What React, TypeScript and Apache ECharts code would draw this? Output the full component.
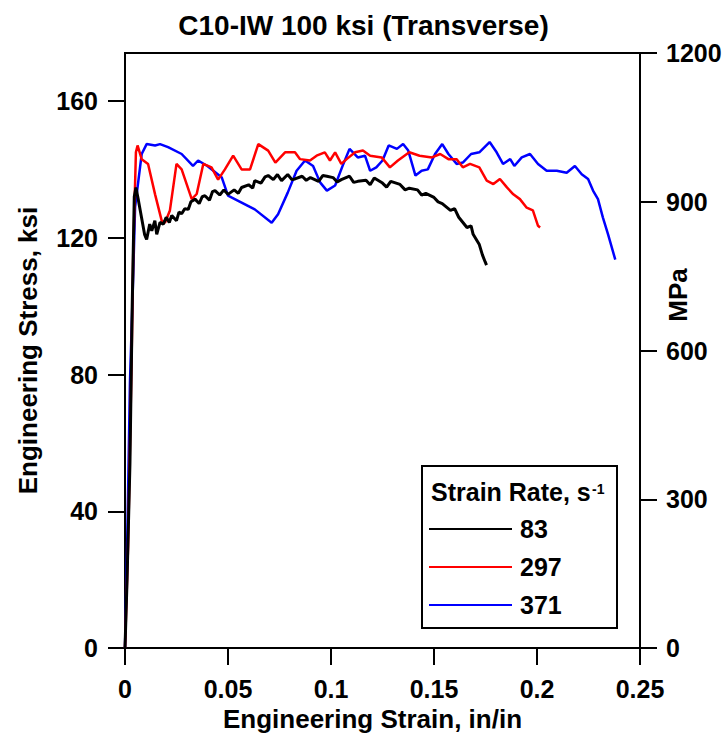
import React, { useEffect, useRef } from "react";
import * as echarts from "echarts";

const FONT = "'Liberation Sans', Arial, sans-serif";
const KSI_TO_MPA = 6.89476;

const xTicks = [0, 0.05, 0.1, 0.15, 0.2, 0.25];
const ksiTicks = [0, 40, 80, 120, 160];
const mpaTicks = [0, 300, 600, 900, 1200];

const seriesNames = ["83", "297", "371"];
const seriesColors = ["#000000", "#ff0000", "#0000ff"];

const strain83 = [
  0, 0.001, 0.0024, 0.0035, 0.0045, 0.0053, 0.0065, 0.008, 0.0095, 0.0105, 0.012, 0.013, 0.0145, 0.0154,
  0.017, 0.0186, 0.02, 0.0215, 0.0227, 0.025, 0.0262, 0.0275, 0.029, 0.0307, 0.032, 0.034, 0.036, 0.0375,
  0.0388, 0.041, 0.0425, 0.0437, 0.046, 0.048, 0.05, 0.053, 0.055, 0.0566, 0.06, 0.062, 0.063, 0.066,
  0.068, 0.0695, 0.072, 0.074, 0.076, 0.079, 0.081, 0.0825, 0.086, 0.088, 0.09, 0.094, 0.096, 0.098,
  0.101, 0.103, 0.105, 0.109, 0.111, 0.113, 0.117, 0.119, 0.121, 0.125, 0.127, 0.129, 0.1335, 0.136,
  0.138, 0.142, 0.144, 0.146, 0.15, 0.152, 0.154, 0.158, 0.16, 0.162, 0.166, 0.168, 0.169, 0.172,
  0.1735, 0.1748, 0.1755,
];
const stress83 = [
  0, 20, 54, 100, 132, 134.7, 131, 126, 121, 119.5, 124, 122, 125, 121,
  124.5, 124, 126, 124.5, 126.5, 125, 127.5, 127, 128.5, 128.3, 130.5, 131.3, 130, 132,
  132.3, 131, 133.5, 133.8, 132.5, 134, 132.7, 134, 133, 134.7, 135.5, 134.5, 136.7, 136,
  137.8, 138.2, 137, 138.5, 136.7, 138.5, 137, 137.2, 138, 136.8, 137.6, 136.5, 138.2, 138,
  137.6, 136.3, 137, 138, 136.2, 136.5, 136.8, 135.5, 137.5, 136, 134.8, 136.5, 135.6, 134,
  134.5, 134, 132.5, 133, 131.8, 130.5, 130, 128, 128.5, 126, 123, 123.5, 121, 118,
  115, 113, 112,
];

const strain297 = [
  0, 0.0015, 0.0032, 0.004, 0.0053, 0.0061, 0.0081, 0.0112, 0.0146, 0.0178, 0.0194, 0.0218, 0.025, 0.0275,
  0.0324, 0.0348, 0.038, 0.042, 0.0452, 0.0485, 0.0525, 0.0566, 0.0607, 0.0647, 0.0695, 0.073, 0.0777, 0.0825,
  0.085, 0.0898, 0.093, 0.097, 0.0995, 0.102, 0.105, 0.1076, 0.1117, 0.1155, 0.119, 0.1246, 0.1286, 0.1325,
  0.138, 0.143, 0.149, 0.153, 0.157, 0.161, 0.164, 0.1675, 0.172, 0.1756, 0.1788, 0.182, 0.1853, 0.1885,
  0.1917, 0.195, 0.198, 0.2005, 0.2015,
];
const stress297 = [
  0, 30, 84.5, 115.6, 145, 147, 143, 141.6, 132.7, 125, 124.4, 128, 141.6, 140,
  131.3, 132.8, 141.6, 140.6, 137, 140, 144, 140, 140, 147.4, 145.5, 142, 145, 145,
  143, 142.6, 144, 145, 142.6, 145, 141.6, 143, 145, 145.5, 144, 143.5, 140.6, 142.6,
  145, 144, 143.5, 144.5, 143, 143, 140.6, 141.6, 140.6, 136.7, 135.7, 137.2, 134.8, 132.7,
  131.3, 128.8, 128, 123.5, 123,
];

const strain371 = [
  0, 0.0012, 0.0024, 0.0037, 0.0049, 0.0073, 0.0081, 0.0105, 0.0146, 0.017, 0.0209, 0.0275, 0.033, 0.0355,
  0.04, 0.047, 0.05, 0.0566, 0.063, 0.0712, 0.0743, 0.079, 0.0833, 0.0874, 0.0913, 0.0947, 0.098, 0.102,
  0.106, 0.109, 0.113, 0.1165, 0.119, 0.122, 0.125, 0.128, 0.132, 0.135, 0.1375, 0.141, 0.144, 0.147,
  0.1505, 0.154, 0.157, 0.161, 0.164, 0.168, 0.172, 0.177, 0.1804, 0.1835, 0.187, 0.189, 0.1926, 0.1966,
  0.2005, 0.2047, 0.2096, 0.2144, 0.2184, 0.2217, 0.2248, 0.2272, 0.2296, 0.232, 0.2345, 0.238,
];
const stress371 = [
  0, 35, 77.6, 103, 129, 140.6, 144.5, 147.4, 147, 147.4, 146.5, 144.5, 141, 142.6,
  141, 137.6, 132.3, 130.3, 128.3, 124.4, 126.9, 133.2, 139.6, 142.6, 141, 136.2, 133.8, 135.3,
  141.6, 146, 143.5, 144, 139.6, 140.6, 142.6, 147, 146, 147.4, 145.5, 138.2, 139.6, 140,
  144.5, 147.4, 144.5, 141.6, 142, 144.5, 145, 148, 145, 141.6, 143, 141, 143.5, 144.5,
  141.6, 139.6, 139.6, 139, 141, 138.6, 137.2, 133.8, 131.3, 125.9, 121, 113.6,
];

const strains = [strain83, strain297, strain371];
const stresses = [stress83, stress297, stress371];
const lineWidths = [3, 2.5, 2.5];

export default function App() {
  const ref = useRef<HTMLDivElement>(null);

  useEffect(() => {
    if (!ref.current) return;
    const chart = echarts.init(ref.current, undefined, { renderer: "svg" });
    const axisLine = { show: true, onZero: false, lineStyle: { color: "#000", width: 2 } };
    const labelStyle = { color: "#000", fontFamily: FONT, fontWeight: "bold" as const, fontSize: 25 };
    const plain = (v: number) => String(v);

    const series = seriesNames.map((name, i) => ({
      name,
      type: "line" as const,
      yAxisIndex: 0,
      showSymbol: false,
      symbol: "none",
      color: seriesColors[i],
      lineStyle: { color: seriesColors[i], width: lineWidths[i] },
      data: strains[i].map((x, j) => [x, stresses[i][j]]),
      z: 3 - i,
    }));

    chart.setOption({
      animation: false,
      backgroundColor: "#ffffff",
      title: {
        text: "C10-IW 100 ksi (Transverse)",
        left: "center",
        top: 6,
        textStyle: { color: "#000", fontFamily: FONT, fontWeight: "bold", fontSize: 28 },
      },
      grid: {
        left: 125,
        right: 87,
        top: 53,
        bottom: 90,
        show: true,
        borderColor: "#000",
        borderWidth: 2,
        backgroundColor: "transparent",
        containLabel: false,
        outerBoundsMode: "none",
      },
      xAxis: {
        type: "value",
        min: 0,
        max: 0.25,
        interval: 0.05,
        axisLine,
        axisTick: { show: true, inside: false, length: 17, lineStyle: { color: "#000", width: 2 }, customValues: xTicks },
        axisLabel: { ...labelStyle, margin: 28, customValues: xTicks, formatter: plain },
        splitLine: { show: false },
        name: "Engineering Strain, in/in",
        nameLocation: "middle",
        nameGap: 56,
        nameTextStyle: { ...labelStyle, fontSize: 26, padding: [0, 20, 0, 0] },
      },
      yAxis: [
        {
          type: "value",
          position: "left",
          min: 0,
          max: 1200 / KSI_TO_MPA,
          axisLine,
          axisTick: { show: true, length: 17, lineStyle: { color: "#000", width: 2 }, customValues: ksiTicks },
          axisLabel: { ...labelStyle, margin: 27, customValues: ksiTicks, formatter: plain },
          splitLine: { show: false },
          name: "Engineering Stress, ksi",
          nameLocation: "middle",
          nameGap: 84,
          nameTextStyle: { ...labelStyle, fontSize: 26 },
        },
        {
          type: "value",
          position: "right",
          min: 0,
          max: 1200,
          axisLine,
          axisTick: { show: true, length: 17, lineStyle: { color: "#000", width: 2 }, customValues: mpaTicks },
          axisLabel: { ...labelStyle, margin: 26, customValues: mpaTicks, formatter: plain },
          splitLine: { show: false },
        },
      ],
      legend: {
        data: seriesNames,
        orient: "vertical",
        left: 429,
        top: 515,
        padding: 0,
        z: 30,
        icon: "rect",
        itemWidth: 83,
        itemHeight: 2,
        itemGap: 10,
        selectedMode: false,
        textStyle: { ...labelStyle, fontSize: 25, lineHeight: 28, padding: [0, 0, 0, 3] },
      },
      graphic: [
        {
          type: "rect",
          shape: { x: 422, y: 466, width: 195, height: 162 },
          style: { fill: "#ffffff", stroke: "#000", lineWidth: 2 },
          z: 5,
        },
        {
          type: "text",
          x: 431,
          y: 492,
          style: {
            text: "Strain Rate, s",
            fill: "#000",
            font: `bold 25px ${FONT}`,
            textAlign: "left",
            textVerticalAlign: "middle",
          },
          z: 11,
        },
        {
          type: "text",
          x: 592,
          y: 482,
          style: {
            text: "-1",
            fill: "#000",
            font: `bold 14px ${FONT}`,
            textAlign: "left",
            textVerticalAlign: "top",
          },
          z: 11,
        },
        {
          type: "text",
          x: 678,
          y: 295,
          rotation: Math.PI / 2,
          style: {
            text: "MPa",
            fill: "#000",
            font: `bold 26px ${FONT}`,
            textAlign: "center",
            textVerticalAlign: "middle",
          },
          z: 11,
        },
      ],
      series,
    });

    return () => chart.dispose();
  }, []);

  return (
    <div
      ref={ref}
      style={{ position: "fixed", left: 0, top: 0, width: 727, height: 738, background: "#fff" }}
    />
  );
}
